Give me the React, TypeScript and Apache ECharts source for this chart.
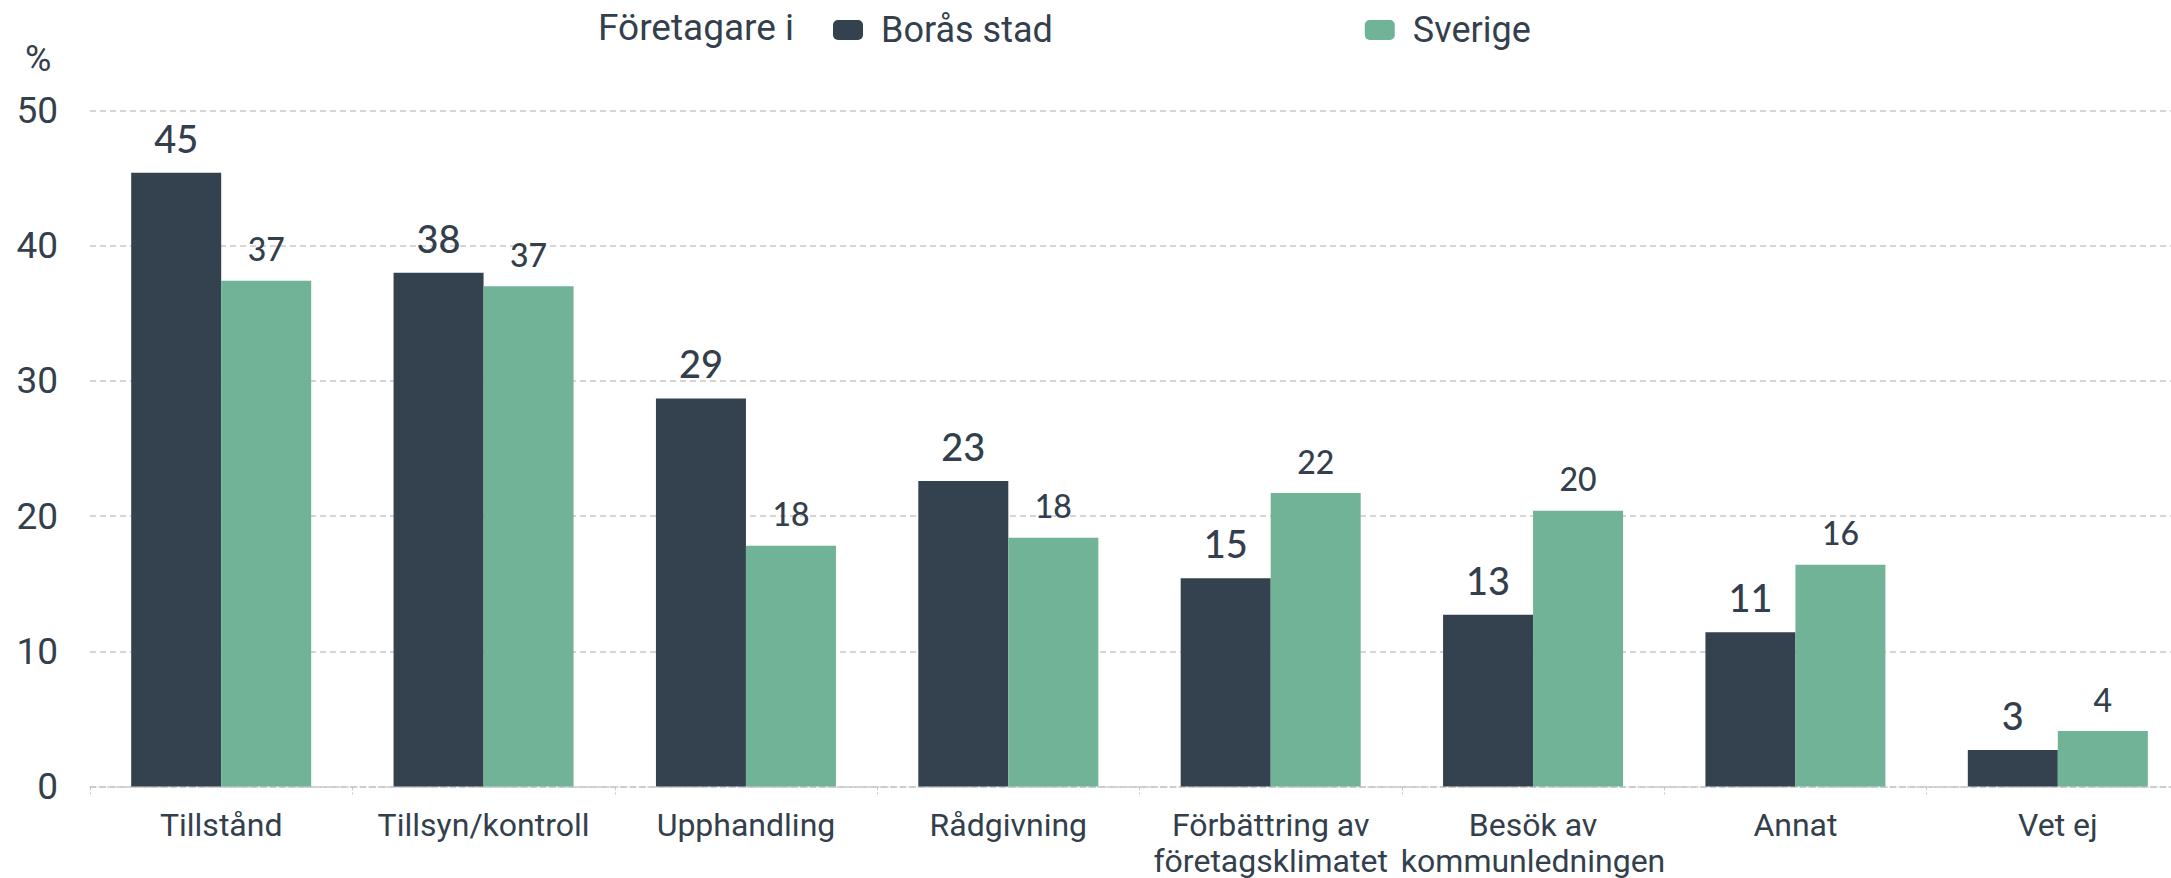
import React, { useEffect, useRef } from "react";
import * as echarts from "echarts";

const categories = [
  "Tillstånd",
  "Tillsyn/kontroll",
  "Upphandling",
  "Rådgivning",
  "Förbättring av\nföretagsklimatet",
  "Besök av\nkommunledningen",
  "Annat",
  "Vet ej",
];
const seriesNames = ["Borås stad", "Sverige"];
const borasValues = [45.4, 38.0, 28.7, 22.6, 15.4, 12.7, 11.4, 2.7];
const sverigeValues = [37.4, 37.0, 17.8, 18.4, 21.7, 20.4, 16.4, 4.1];
const legendTitle = "Företagare i";
const yUnit = "%";

const DARK = "#34414f";
const GREEN = "#71b397";
const TEXT = "#333f4c";

export default function App() {
  const ref = useRef<HTMLDivElement>(null);
  useEffect(() => {
    if (!ref.current) return;
    const chart = echarts.init(ref.current, null, { renderer: "svg" });
    chart.setOption({
      animation: false,
      backgroundColor: "#ffffff",
      graphic: [
        {
          type: "text",
          left: 598,
          top: 9,
          style: { text: legendTitle, fill: TEXT, fontFamily: "Roboto", fontSize: 37 },
        },
        {
          type: "text",
          left: 25,
          top: 41,
          style: { text: yUnit, fill: TEXT, fontFamily: "Roboto", fontSize: 36 },
        },
      ],
      legend: {
        data: seriesNames,
        left: 828,
        top: 7,
        itemWidth: 30,
        itemHeight: 20,
        itemGap: 312,
        icon: "roundRect",
        textStyle: {
          color: TEXT,
          fontFamily: "Roboto",
          fontSize: 36,
          padding: [0, 0, 0, 13],
        },
      },
      grid: {
        left: 90,
        right: -18,
        top: 110.5,
        bottom: 91.5,
        containLabel: false,
        outerBoundsMode: "none",
      },
      xAxis: {
        type: "category",
        data: categories,
        axisLine: { show: true, lineStyle: { color: "#c8c8c8", type: "dashed", width: 1.5 } },
        axisTick: { show: true, length: 8, lineStyle: { color: "#c8c8c8", type: "dashed" } },
        axisLabel: {
          color: TEXT,
          fontFamily: "Roboto",
          fontSize: 32,
          lineHeight: 36,
          margin: 20,
          interval: 0,
        },
      },
      yAxis: {
        type: "value",
        min: 0,
        max: 50,
        interval: 10,
        axisLine: { show: false },
        axisTick: { show: false },
        splitLine: { lineStyle: { color: "#c8c8c8", type: [6, 4], width: 1.5 } },
        axisLabel: {
          color: TEXT,
          fontFamily: "Roboto",
          fontSize: 37,
          margin: 32,
        },
      },
      series: [
        {
          name: seriesNames[0],
          type: "bar",
          data: borasValues,
          barWidth: 90,
          barGap: "0%",
          itemStyle: { color: DARK },
          label: {
            show: true,
            position: "top",
            distance: 16,
            color: TEXT,
            fontFamily: "Lato",
            fontWeight: 500,
            fontSize: 38,
            formatter: (p: any) => String(Math.round(p.value)),
          },
        },
        {
          name: seriesNames[1],
          type: "bar",
          data: sverigeValues,
          barWidth: 90,
          barGap: "0%",
          itemStyle: { color: GREEN },
          label: {
            show: true,
            position: "top",
            distance: 16,
            color: TEXT,
            fontFamily: "Lato",
            fontWeight: 500,
            fontSize: 32,
            formatter: (p: any) => String(Math.round(p.value)),
          },
        },
      ],
    });
    return () => chart.dispose();
  }, []);
  return (
    <div
      ref={ref}
      style={{ position: "fixed", left: 0, top: 0, width: 2171, height: 878 }}
    />
  );
}
